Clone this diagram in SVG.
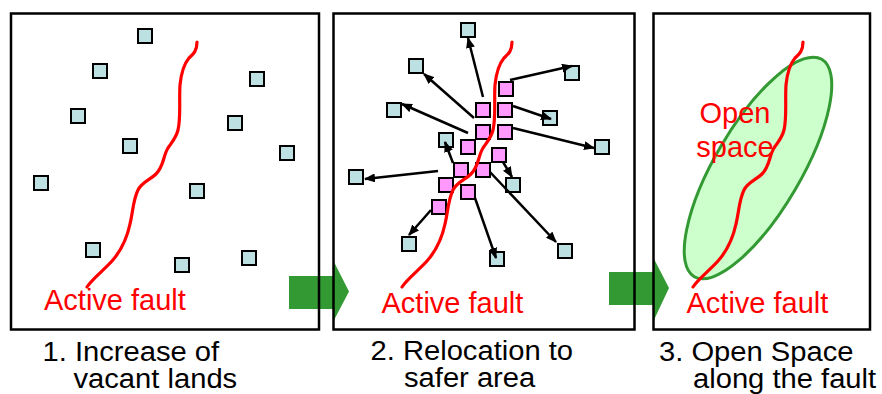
<svg xmlns="http://www.w3.org/2000/svg" width="882" height="394" viewBox="0 0 882 394">
<style>
.box{fill:none;stroke:#000;stroke-width:2.5}
.sq{fill:#bde0e3;stroke:#000;stroke-width:2}
.pk{fill:#ff99ff;stroke:#000;stroke-width:2}
.fault{fill:none;stroke:#ff0000;stroke-width:3.2;stroke-linecap:round;stroke-linejoin:round}
.arr{stroke:#000;stroke-width:2.5;fill:none;marker-end:url(#ah)}
.green{fill:#339933}
.red{fill:#ff0000;font-family:"Liberation Sans",Arial,sans-serif;font-size:29px}
.cap{fill:#000;font-family:"Liberation Sans",Arial,sans-serif;font-size:27px}
</style>
<defs>
<marker id="ah" markerUnits="userSpaceOnUse" markerWidth="11" markerHeight="9" refX="10" refY="4.5" orient="auto">
<path d="M0,0 L11,4.5 L0,9 z" fill="#000"/>
</marker>
<path id="faultPath" d="M197,42 C197,52 192,55 189,58 C184,64 181,75 180,85 C179,100 181,118 178,130 C176,138 172,142 168,148 C163,156 164,166 156,174 C150,180 142,182 138,190 C133,200 133,212 130,224 C127,238 120,252 112,261 C104,270 92,279 87,287"/>
</defs>
<rect width="882" height="394" fill="#fff"/>
<g id="step-arrows">
<polygon class="green" points="289,276 333,276 333,260 349,291.5 333,322 333,309 289,309"/>
<polygon class="green" points="609,272 653,272 653,257 669,288 653,322 653,305 609,305"/>
</g>
<g id="panel1">
<rect class="box" x="11" y="13.5" width="308" height="316"/>
<g id="p1-lands">
<rect class="sq" x="138" y="29" width="14" height="14"/>
<rect class="sq" x="93" y="64" width="14" height="14"/>
<rect class="sq" x="250" y="72" width="14" height="14"/>
<rect class="sq" x="71" y="109" width="14" height="14"/>
<rect class="sq" x="228" y="116" width="14" height="14"/>
<rect class="sq" x="123" y="139" width="14" height="14"/>
<rect class="sq" x="280" y="146" width="14" height="14"/>
<rect class="sq" x="34" y="176" width="14" height="14"/>
<rect class="sq" x="190" y="184" width="14" height="14"/>
<rect class="sq" x="86" y="243" width="14" height="14"/>
<rect class="sq" x="175" y="258" width="14" height="14"/>
<rect class="sq" x="242" y="251" width="14" height="14"/>
</g>
<use href="#faultPath" class="fault"/>
<text class="red" x="44" y="310">Active fault</text>
<text class="cap" transform="translate(42.5,361) scale(1.08,1)">1. Increase of</text>
<text class="cap" transform="translate(73.5,388) scale(1.08,1)">vacant lands</text>
</g>
<g id="panel2">
<rect class="box" x="333.5" y="13.5" width="301" height="316"/>
<g id="p2-new-lands">
<rect class="sq" x="461" y="23" width="14" height="14"/>
<rect class="sq" x="409" y="59" width="14" height="14"/>
<rect class="sq" x="565" y="66" width="14" height="14"/>
<rect class="sq" x="387" y="103" width="14" height="14"/>
<rect class="sq" x="543" y="111" width="14" height="14"/>
<rect class="sq" x="595" y="140" width="14" height="14"/>
<rect class="sq" x="439" y="133" width="14" height="14"/>
<rect class="sq" x="349" y="170" width="14" height="14"/>
<rect class="sq" x="506" y="178" width="14" height="14"/>
<rect class="sq" x="402" y="237" width="14" height="14"/>
<rect class="sq" x="490" y="252" width="14" height="14"/>
<rect class="sq" x="558" y="244" width="14" height="14"/>
</g>
<g id="p2-old-lands">
<rect class="pk" x="499" y="82" width="14" height="14"/>
<rect class="pk" x="476" y="103" width="14" height="14"/>
<rect class="pk" x="498" y="103" width="14" height="14"/>
<rect class="pk" x="476" y="125" width="14" height="14"/>
<rect class="pk" x="498" y="125" width="14" height="14"/>
<rect class="pk" x="461" y="140" width="14" height="14"/>
<rect class="pk" x="492" y="148" width="14" height="14"/>
<rect class="pk" x="454" y="163" width="14" height="14"/>
<rect class="pk" x="476" y="163" width="14" height="14"/>
<rect class="pk" x="439" y="178" width="14" height="14"/>
<rect class="pk" x="461" y="185" width="14" height="14"/>
<rect class="pk" x="432" y="200" width="14" height="14"/>
</g>
<g id="connectors">
<line class="arr" x1="483" y1="97" x2="468" y2="38"/>
<line class="arr" x1="474" y1="118" x2="424" y2="74"/>
<line class="arr" x1="468" y1="133" x2="402" y2="104"/>
<line class="arr" x1="510" y1="80" x2="572" y2="66"/>
<line class="arr" x1="513" y1="106" x2="551" y2="119"/>
<line class="arr" x1="513" y1="128" x2="594" y2="148"/>
<line class="arr" x1="453" y1="163" x2="445" y2="142"/>
<line class="arr" x1="438" y1="171" x2="365" y2="179"/>
<line class="arr" x1="503" y1="162" x2="512" y2="177"/>
<line class="arr" x1="490" y1="172" x2="556" y2="242"/>
<line class="arr" x1="475" y1="198" x2="496" y2="258"/>
<line class="arr" x1="431" y1="210" x2="409" y2="235"/>
</g>
<use href="#faultPath" class="fault" transform="translate(315,0)"/>
<text class="red" x="381.5" y="313">Active fault</text>
<text class="cap" transform="translate(370.5,360) scale(1.08,1)">2. Relocation to</text>
<text class="cap" transform="translate(404,387) scale(1.08,1)">safer area</text>
</g>
<g id="panel3">
<rect class="box" x="653.5" y="13.5" width="216.5" height="316"/>
<ellipse id="open-space" cx="758" cy="168" rx="126" ry="43" transform="rotate(-59.6 758 168)" fill="#ccffcc" stroke="#339933" stroke-width="3"/>
<use href="#faultPath" class="fault" transform="translate(606,0)"/>
<text class="red" x="735" y="123" text-anchor="middle">Open</text>
<text class="red" x="735" y="157" text-anchor="middle">space</text>
<text class="red" x="686.5" y="313">Active fault</text>
<text class="cap" transform="translate(659,361) scale(1.08,1)">3. Open Space</text>
<text class="cap" transform="translate(693,388) scale(1.08,1)">along the fault</text>
</g>
</svg>
